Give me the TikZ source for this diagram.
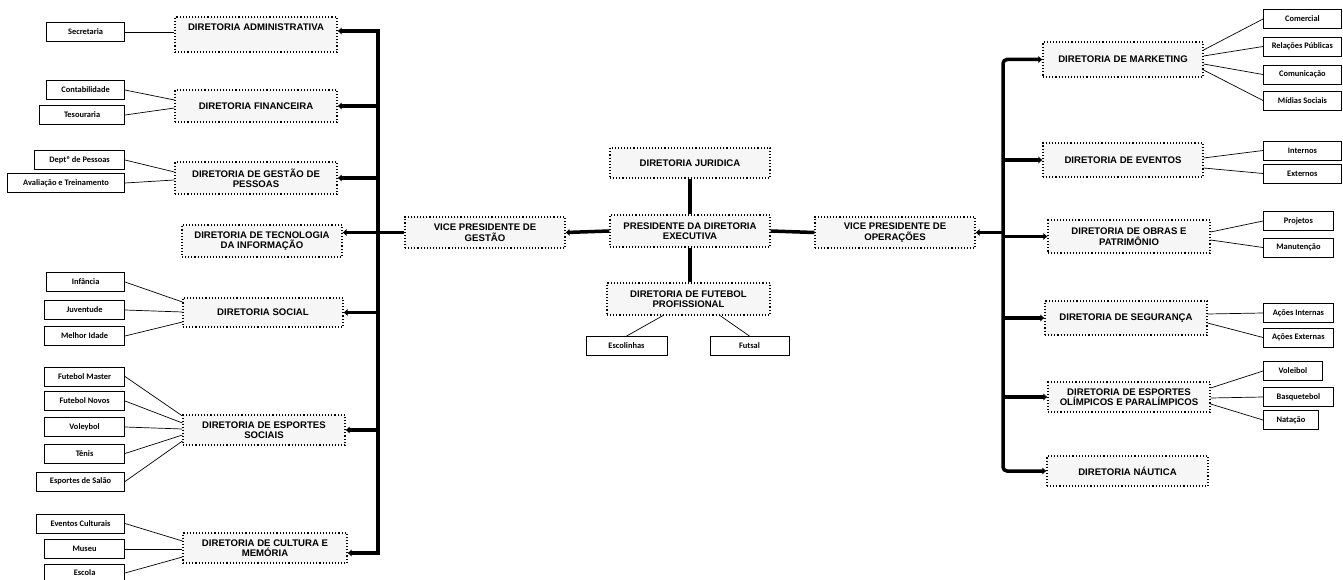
\documentclass[tikz,border=0pt]{standalone}
\usepackage{fontspec}
\setmainfont{Liberation Sans}
\newfontfamily\subfont{Carlito}
\usetikzlibrary{arrows.meta}
\tikzset{
  dirbox/.style={draw, dotted, line width=1.1pt, fill=gray!7, minimum width=162pt,
    minimum height=31pt, align=center, inner sep=1pt,
    font=\bfseries\fontsize{9.6}{10.4}\selectfont},
  subbox/.style={draw, solid, line width=0.8pt, fill=white, minimum height=19pt,
    inner sep=1pt, font=\subfont\bfseries\fontsize{8.4}{9}\selectfont},
  lsub/.style={subbox, anchor=east},
  rsub/.style={subbox, anchor=west},
  bus/.style={line width=3.5pt, line join=miter},
  busarrow/.style={line width=3.5pt, -{Latex[length=4pt,width=7.5pt]}},
  thinline/.style={line width=0.7pt},
}
\begin{document}
\begin{tikzpicture}[x=1pt,y=-1pt]
\useasboundingbox (0,0) rectangle (1343,580);

% ---------- left directorates
\node[dirbox, minimum height=35pt, text height=7pt, text depth=14pt] (adm) at (256,34.5) {DIRETORIA ADMINISTRATIVA};
\node[dirbox, minimum height=32pt] (fin) at (256,106) {DIRETORIA FINANCEIRA};
\node[dirbox, minimum height=32pt] (ges) at (256,178) {DIRETORIA DE GESTÃO DE\\PESSOAS};
\node[dirbox, minimum width=160pt, minimum height=32pt] (ti) at (262,241) {DIRETORIA DE TECNOLOGIA\\DA INFORMAÇÃO};
\node[dirbox, minimum width=160pt, minimum height=29pt] (soc) at (263,312.5) {DIRETORIA SOCIAL};
\node[dirbox, minimum height=30pt] (esp) at (264,430) {DIRETORIA DE ESPORTES\\SOCIAIS};
\node[dirbox, minimum width=164pt, minimum height=30pt] (cul) at (265,548) {DIRETORIA DE CULTURA E\\MEMÓRIA};

% ---------- centre
\node[dirbox, minimum width=160pt] (vpg) at (485,232.5) {VICE PRESIDENTE DE\\GESTÃO};
\node[dirbox, minimum width=160pt, minimum height=32pt] (pres) at (690,231) {PRESIDENTE DA DIRETORIA\\EXECUTIVA};
\node[dirbox, minimum width=160pt, minimum height=30pt] (jur) at (690,163) {DIRETORIA JURIDICA};
\node[dirbox, minimum width=163pt, minimum height=32pt] (fut) at (688.5,299) {DIRETORIA DE FUTEBOL\\PROFISSIONAL};
\node[dirbox, minimum width=160pt] (vpo) at (895,232.5) {VICE PRESIDENTE DE\\OPERAÇÕES};
\node[subbox, minimum width=81pt] (escn) at (626.5,346) {Escolinhas};
\node[subbox, minimum width=79pt] (fsal) at (749.5,346) {Futsal};

% ---------- right directorates
\node[dirbox, minimum width=160pt, minimum height=35pt] (mkt) at (1123,59.5) {DIRETORIA DE MARKETING};
\node[dirbox, minimum width=160pt, minimum height=34pt] (eve) at (1123,160) {DIRETORIA DE EVENTOS};
\node[dirbox, minimum height=33pt] (obr) at (1129,236.5) {DIRETORIA DE OBRAS E\\PATRIMÔNIO};
\node[dirbox, minimum height=34pt] (seg) at (1126,318) {DIRETORIA DE SEGURANÇA};
\node[dirbox, minimum height=30pt] (oli) at (1129,397) {DIRETORIA DE ESPORTES\\OLÍMPICOS E PARALÍMPICOS};
\node[dirbox, minimum width=161pt, minimum height=30pt] (nau) at (1127.5,471) {DIRETORIA NÁUTICA};

% ---------- left sub boxes
\node[lsub, minimum width=78pt] (sec) at (125,32) {Secretaria};
\node[lsub, minimum width=78pt] (con) at (125,90) {Contabilidade};
\node[lsub, minimum width=85pt] (tes) at (125,115) {Tesouraria};
\node[lsub, minimum width=90pt] (dep) at (125,160) {Deptº de Pessoas};
\node[lsub, minimum width=117pt] (ava) at (125,183) {Avaliação e Treinamento};
\node[lsub, minimum width=78pt] (inf) at (125,282) {Infância};
\node[lsub, minimum width=80pt] (juv) at (125,310) {Juventude};
\node[lsub, minimum width=80pt] (mel) at (125,336) {Melhor Idade};
\node[lsub, minimum width=80pt] (fm) at (125,376.5) {Futebol Master};
\node[lsub, minimum width=80pt] (fn) at (125,401) {Futebol Novos};
\node[lsub, minimum width=80pt] (vol) at (125,427) {Voleybol};
\node[lsub, minimum width=80pt] (ten) at (125,453.5) {Tênis};
\node[lsub, minimum width=88pt] (sal) at (125,481.5) {Esportes de Salão};
\node[lsub, minimum width=88pt] (evc) at (125,523.5) {Eventos Culturais};
\node[lsub, minimum width=80pt] (mus) at (125,549) {Museu};
\node[lsub, minimum width=80pt, minimum height=17pt] (escl) at (125,573) {Escola};

% ---------- right sub boxes
\node[rsub, minimum width=78pt] (com) at (1263,19) {Comercial};
\node[rsub, minimum width=78pt] (rp) at (1263,46.5) {Relações Públicas};
\node[rsub, minimum width=78pt] (cmu) at (1263,74.5) {Comunicação};
\node[rsub, minimum width=78pt] (mid) at (1263,100.5) {Mídias Sociais};
\node[rsub, minimum width=78pt] (int) at (1263,150.5) {Internos};
\node[rsub, minimum width=78pt] (ext) at (1263,173.5) {Externos};
\node[rsub, minimum width=70pt] (pro) at (1263,221) {Projetos};
\node[rsub, minimum width=70pt] (man) at (1263,247.5) {Manutenção};
\node[rsub, minimum width=70pt] (aci) at (1263,313) {Ações Internas};
\node[rsub, minimum width=70pt] (ace) at (1263,337.5) {Ações Externas};
\node[rsub, minimum width=59pt] (vlb) at (1263,371) {Voleibol};
\node[rsub, minimum width=70pt] (bas) at (1263,397) {Basquetebol};
\node[rsub, minimum width=55pt] (nat) at (1263,420) {Natação};

% ---------- bus coordinates
\coordinate (lbt) at (378,31);
\coordinate (lbb) at (378,553);
\coordinate (rbt) at (1003,59.5);
\coordinate (rbb) at (1003,471);

% ---------- left bus
\draw[bus, {Latex[length=4pt,width=7.5pt]}-{Latex[length=4pt,width=7.5pt]}]
  ([yshift=3.5pt]adm.east) -- (lbt) -- (lbb) -- ([yshift=-5pt]cul.east);
\draw[busarrow] (lbt |- fin.east) -- (fin.east);
\draw[busarrow] (lbt |- ges.east) -- (ges.east);
\draw[busarrow] (lbt |- soc.east) -- (soc.east);
\draw[busarrow] (lbt |- esp.east) -- (esp.east);
\draw[busarrow] (vpg.west) -- (ti.east |- vpg.west);

% ---------- centre connectors
\draw[busarrow] (pres.west) -- (vpg.east);
\draw[bus] (pres.east) -- (vpo.west);
\draw[bus] (jur.south) -- (pres.north);
\draw[bus] (pres.south) -- (pres.south |- fut.north);
\draw[thinline] ([xshift=-25.5pt]fut.south) -- (escn.north);
\draw[thinline] ([xshift=31.5pt]fut.south) -- (fsal.north);

% ---------- right bus
\draw[bus, rounded corners=4pt, {Latex[length=4pt,width=7.5pt]}-{Latex[length=4pt,width=7.5pt]}]
  (mkt.west) -- (rbt) -- (rbb) -- (nau.west);
\draw[busarrow] (rbt |- vpo.east) -- (vpo.east);
\draw[busarrow] (rbt |- eve.west) -- (eve.west);
\draw[busarrow] (rbt |- obr.west) -- (obr.west);
\draw[busarrow] (rbt |- seg.west) -- (seg.west);
\draw[busarrow] (rbt |- oli.west) -- (oli.west);

% ---------- left sub connectors
\draw[thinline] (sec.east) -- (adm.west |- sec.east);
\draw[thinline] (con.east) -- ([yshift=6pt]fin.west);
\draw[thinline] (tes.east) -- ([yshift=-2pt]fin.west);
\draw[thinline] (dep.east) -- ([yshift=6pt]ges.west);
\draw[thinline] (ava.east) -- ([yshift=-2pt]ges.west);
\draw[thinline] (inf.east) -- ([yshift=10.5pt]soc.west);
\draw[thinline] (juv.east) -- ([yshift=0.5pt]soc.west);
\draw[thinline] (mel.east) -- ([yshift=-9.5pt]soc.west);
\draw[thinline] (fm.east) -- ([yshift=14pt]esp.west);
\draw[thinline] (fn.east) -- ([yshift=7pt]esp.west);
\draw[thinline] (vol.east) -- ([yshift=1pt]esp.west);
\draw[thinline] (ten.east) -- ([yshift=-5pt]esp.west);
\draw[thinline] (sal.east) -- ([yshift=-11pt]esp.west);
\draw[thinline] (evc.east) -- ([yshift=7pt]cul.west);
\draw[thinline] (mus.east) -- ([yshift=-1pt]cul.west);
\draw[thinline] (escl.east) -- ([yshift=-9pt]cul.west);

% ---------- right sub connectors
\draw[thinline] (com.west) -- ([yshift=9.5pt]mkt.east);
\draw[thinline] (rp.west) -- ([yshift=3.5pt]mkt.east);
\draw[thinline] (cmu.west) -- ([yshift=-4.5pt]mkt.east);
\draw[thinline] (mid.west) -- ([yshift=-10.5pt]mkt.east);
\draw[thinline] (int.west) -- ([yshift=2pt]eve.east);
\draw[thinline] (ext.west) -- ([yshift=-8pt]eve.east);
\draw[thinline] (pro.west) -- ([yshift=4.5pt]obr.east);
\draw[thinline] (man.west) -- ([yshift=-3.5pt]obr.east);
\draw[thinline] (aci.west) -- ([yshift=4pt]seg.east);
\draw[thinline] (ace.west) -- ([yshift=-5pt]seg.east);
\draw[thinline] (vlb.west) -- ([yshift=9pt]oli.east);
\draw[thinline] (bas.west) -- ([yshift=-1pt]oli.east);
\draw[thinline] (nat.west) -- ([yshift=-7pt]oli.east);
\end{tikzpicture}
\end{document}
